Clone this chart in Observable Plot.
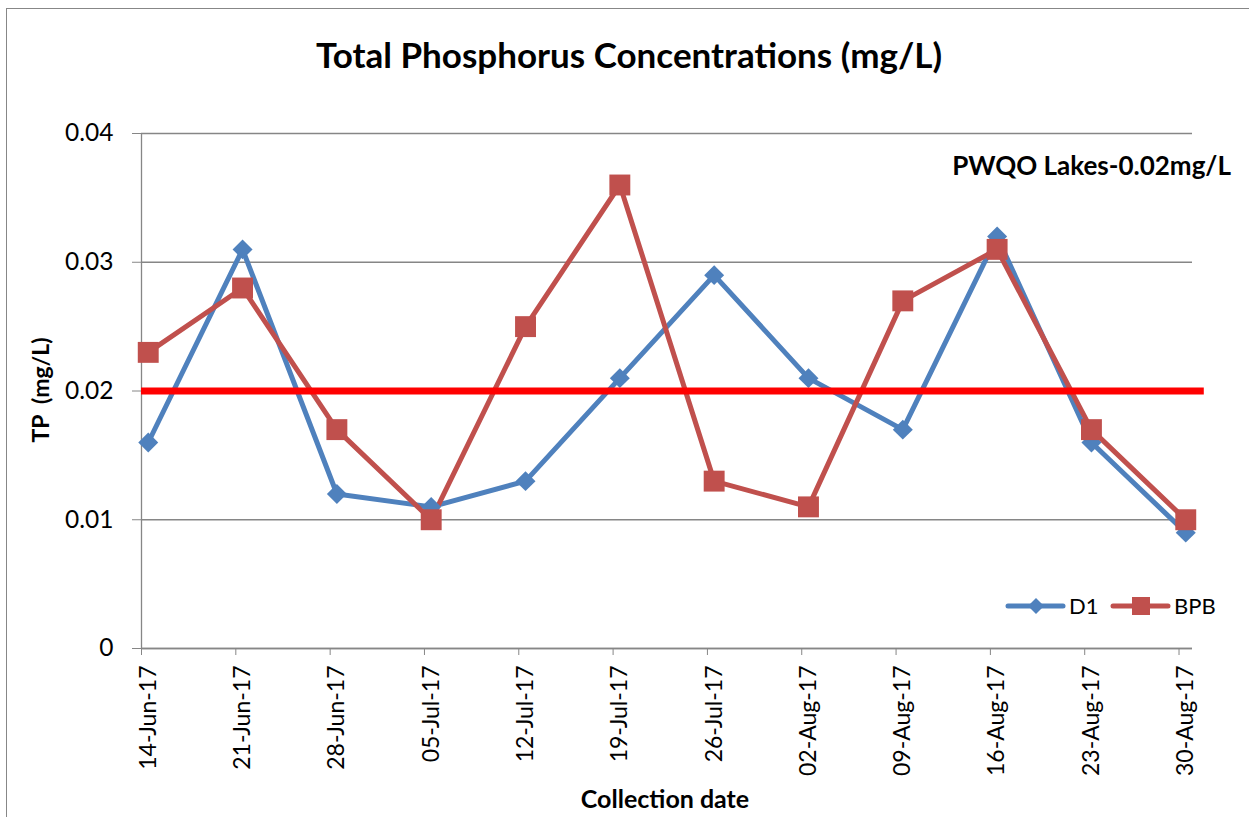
<!DOCTYPE html>
<html><head><meta charset="utf-8">
<script src="https://cdn.jsdelivr.net/npm/d3@7"></script>
<script src="https://cdn.jsdelivr.net/npm/@observablehq/plot@0.6"></script>
<style>
body{margin:0;background:#fff;overflow:hidden;font-family:Lato,sans-serif;}
#wrap{position:relative;width:1249px;height:817px;overflow:hidden;}
.border{position:absolute;left:6px;top:8px;width:1300px;height:900px;border-top:1.5px solid #878787;border-left:1.5px solid #878787;}
.t{position:absolute;white-space:pre;color:#000;line-height:1;font-family:Lato,sans-serif;}
#chart{position:absolute;left:0;top:0;}
</style></head><body><div id="wrap">
<div class="border"></div>
<div id="chart"></div>
</div>
<script>
// ---- data ----
const dates = ["2017-06-14","2017-06-21","2017-06-28","2017-07-05","2017-07-12","2017-07-19","2017-07-26","2017-08-02","2017-08-09","2017-08-16","2017-08-23","2017-08-30"];
const d1  = [0.016,0.031,0.012,0.011,0.013,0.021,0.029,0.021,0.017,0.032,0.016,0.009];
const bpb = [0.023,0.028,0.017,0.010,0.025,0.036,0.013,0.011,0.027,0.031,0.017,0.010];
const seriesNames = ["D1","BPB"];
const seriesColors = ["#4f81bd","#c0504d"];
const yTicks = [0,0.01,0.02,0.03,0.04];
const threshold = 0.02;
const titleText = "Total Phosphorus Concentrations (mg/L)";
const xTitle = "Collection date";
const yTitle = "TP  (mg/L)";
const thresholdLabel = "PWQO Lakes-0.02mg/L";

// ---- derived ----
const parse = d3.utcParse("%Y-%m-%d");
const fmt = d3.utcFormat("%d-%b-%y");
const days = dates.map(parse);
const mid = days.map(d => d3.utcHour.offset(d, 12));
const xStart = days[0];
const xEnd = d3.utcDay.offset(days[days.length-1], 1);
const thrEnd = d3.utcHour.offset(xEnd, 21);
const rowsD1 = mid.map((d,i)=>({date:d, v:d1[i]}));
const rowsBPB = mid.map((d,i)=>({date:d, v:bpb[i]}));

const chart = Plot.plot({
  width:1249, height:817,
  marginLeft:141, marginRight:57, marginTop:133, marginBottom:169,
  x:{type:"utc", domain:[xStart,xEnd]},
  y:{domain:[0,0.04]},
  style:{fontFamily:"Lato, sans-serif", background:"transparent", color:"#000"},
  marks:[
    Plot.gridY(yTicks,{stroke:"#868686", strokeOpacity:1, strokeWidth:1.3}),
    Plot.ruleX([xStart],{stroke:"#868686", strokeWidth:1.3}),
    Plot.ruleY([0],{stroke:"#868686", strokeWidth:1.3}),
    Plot.axisY(yTicks,{tickSize:9, tickPadding:19, tickFormat:d=>String(d), stroke:"#868686", fill:"#000", fontSize:24.5, label:null}),
    Plot.axisX(days,{tickSize:7, tickFormat:()=> "", stroke:"#868686", label:null}),
    Plot.text(mid,{x:d=>d, text:d=>fmt(d), frameAnchor:"bottom", dy:17, rotate:-90, textAnchor:"end", lineAnchor:"middle", fontSize:23, fill:"#000"}),
    Plot.line(rowsD1,{x:"date", y:"v", stroke:seriesColors[0], strokeWidth:5}),
    Plot.line(rowsBPB,{x:"date", y:"v", stroke:seriesColors[1], strokeWidth:5}),
    Plot.dot(rowsD1,{x:"date", y:"v", symbol:"diamond2", r:9, fill:seriesColors[0], stroke:null}),
    Plot.dot(rowsBPB,{x:"date", y:"v", symbol:"square", r:11.8, fill:seriesColors[1], stroke:null}),
    Plot.ruleY([threshold],{x1:()=>xStart, x2:()=>thrEnd, stroke:"#ff0000", strokeWidth:7})
  ]
});
document.getElementById("chart").appendChild(chart);

const wrap = document.getElementById("wrap");
function place(text, o){
  const el = document.createElement("div");
  el.className = "t";
  el.textContent = text;
  el.style.fontSize = o.size + "px";
  el.style.fontWeight = o.bold ? "700" : "400";
  const top = o.baseline - 0.887*o.size;
  el.style.top = top + "px";
  if (o.anchor === "middle") { el.style.left = (o.x - 1000) + "px"; el.style.width = "2000px"; el.style.textAlign = "center"; }
  else if (o.anchor === "end") { el.style.left = (o.x - 1000) + "px"; el.style.width = "1000px"; el.style.textAlign = "right"; }
  else { el.style.left = o.x + "px"; }
  wrap.appendChild(el);
  return el;
}
place(titleText,{x:629, baseline:68, size:35, bold:true, anchor:"middle"});
place(xTitle,{x:665, baseline:808, size:25, bold:true, anchor:"middle"});
place(thresholdLabel,{x:1231, baseline:175, size:26, bold:true, anchor:"end"});
// rotated y title
const yt = document.createElement("div");
yt.className = "t";
yt.textContent = yTitle;
yt.style.fontSize = "23px"; yt.style.fontWeight = "700";
yt.style.left = "40px"; yt.style.top = "390px";
yt.style.transform = "translate(-50%,-50%) rotate(-90deg)";
wrap.appendChild(yt);

// legend
const leg = document.createElement("div");
leg.style.position = "absolute"; leg.style.left = "1000px"; leg.style.top = "590px";
const ns = "http://www.w3.org/2000/svg";
const lsvg = document.createElementNS(ns,"svg");
lsvg.setAttribute("width","240"); lsvg.setAttribute("height","34");
const items = [{x0:8, name:seriesNames[0], color:seriesColors[0], sym:"diamond"},{x0:113, name:seriesNames[1], color:seriesColors[1], sym:"square"}];
items.forEach(it=>{
  const cy = 16;
  const line = document.createElementNS(ns,"line");
  line.setAttribute("x1",it.x0); line.setAttribute("x2",it.x0+55);
  line.setAttribute("y1",cy); line.setAttribute("y2",cy);
  line.setAttribute("stroke",it.color); line.setAttribute("stroke-width","5"); line.setAttribute("stroke-linecap","round");
  lsvg.appendChild(line);
  const cx = it.x0 + 28;
  const p = document.createElementNS(ns,"path");
  if (it.sym==="diamond") p.setAttribute("d",`M${cx},${cy-8}L${cx+8},${cy}L${cx},${cy+8}L${cx-8},${cy}Z`);
  else p.setAttribute("d",`M${cx-9},${cy-9}h18v18h-18Z`);
  p.setAttribute("fill",it.color);
  lsvg.appendChild(p);
  const tx = document.createElementNS(ns,"text");
  tx.setAttribute("x",it.x0+61); tx.setAttribute("y",cy+8);
  tx.setAttribute("font-family","Lato, sans-serif"); tx.setAttribute("font-size","22");
  tx.textContent = it.name;
  lsvg.appendChild(tx);
});
leg.appendChild(lsvg);
wrap.appendChild(leg);
</script>
</body></html>
